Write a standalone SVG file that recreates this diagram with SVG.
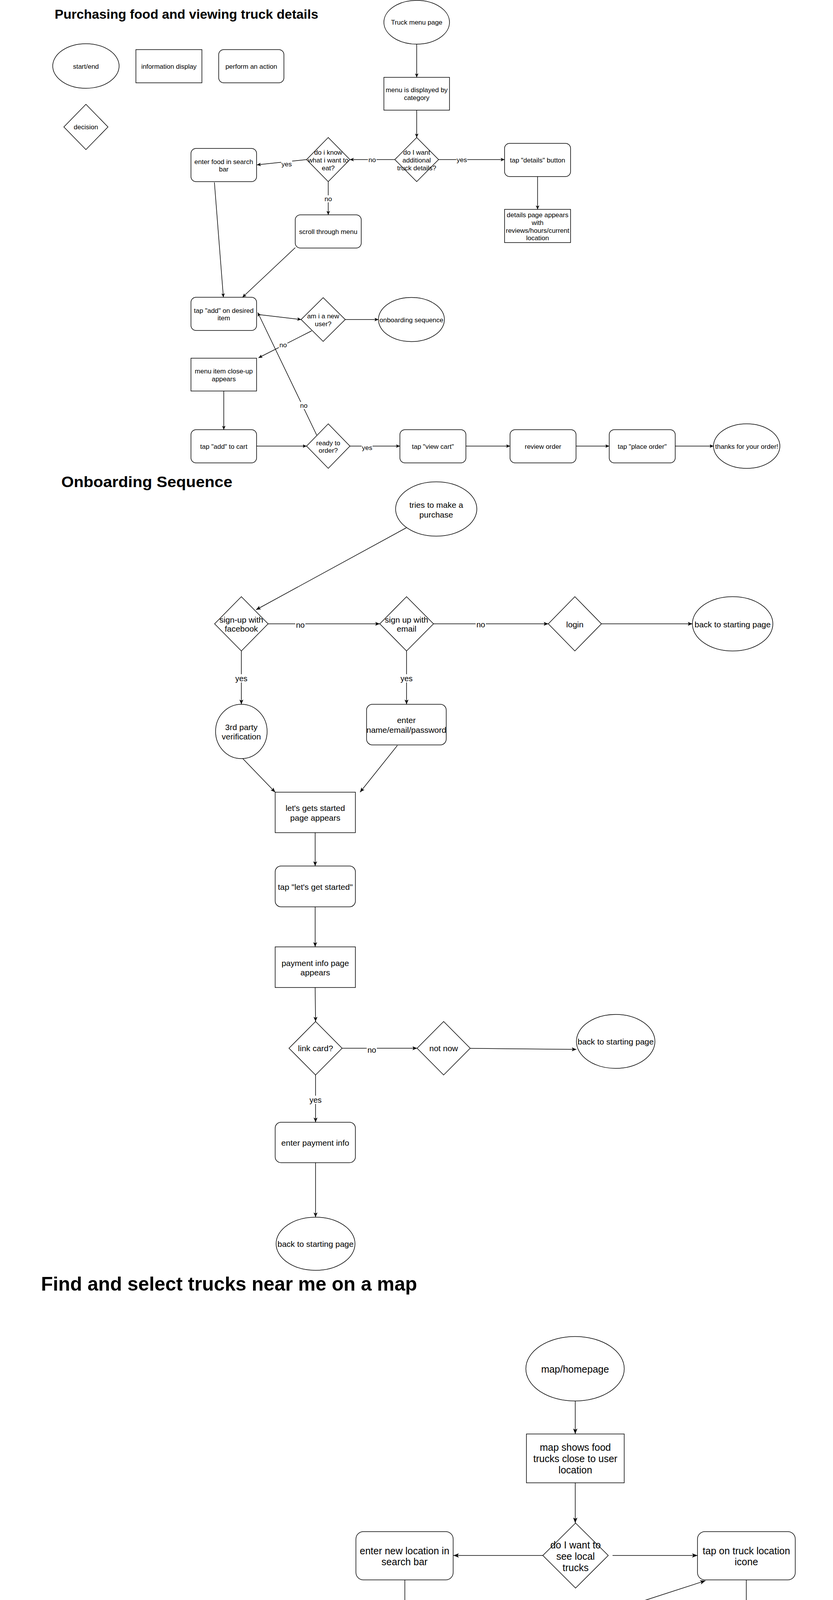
<svg xmlns="http://www.w3.org/2000/svg" width="2133" height="7585" viewBox="0 0 2133 7585">
<style>
text{font-family:"Liberation Sans",Arial,Helvetica,sans-serif;fill:#000;text-anchor:middle}
.title{font-weight:bold;text-anchor:start}
.n{fill:#fff;stroke:#000;stroke-width:1.5}
.c{fill:none;stroke:#000;stroke-width:1.5}
.f1{font-size:17px}
.f2{font-size:21px}
.f3{font-size:25px}
.l1{font-size:17px}
.l2{font-size:20px}
.bg{fill:#fff;stroke:none}
</style>
<defs>
<marker id="aS" viewBox="0 0 10 9" refX="10" refY="4.5" markerWidth="10" markerHeight="9" orient="auto" markerUnits="userSpaceOnUse"><path d="M0,0 L10,4.5 L0,9 L2.5,4.5 Z" fill="#000"/></marker>
<marker id="aM" viewBox="0 0 12 10" refX="12" refY="5" markerWidth="12" markerHeight="10" orient="auto" markerUnits="userSpaceOnUse"><path d="M0,0 L12,5 L0,10 L3,5 Z" fill="#000"/></marker>
<marker id="aL" viewBox="0 0 14 11" refX="14" refY="5.5" markerWidth="14" markerHeight="11" orient="auto" markerUnits="userSpaceOnUse"><path d="M0,0 L14,5.5 L0,11 L3.5,5.5 Z" fill="#000"/></marker>
</defs>
<rect width="2133" height="7585" fill="#fff"/>

<g id="titles">
<text class="title" x="140" y="48" font-size="34" textLength="675" lengthAdjust="spacingAndGlyphs">Purchasing food and viewing truck details</text>
<text class="title" x="157" y="1247" font-size="39" textLength="438" lengthAdjust="spacingAndGlyphs">Onboarding Sequence</text>
<text class="title" x="105" y="3304" font-size="50" textLength="963" lengthAdjust="spacingAndGlyphs">Find and select trucks near me on a map</text>
<text class="title" x="197" y="4876" font-size="50" textLength="643" lengthAdjust="spacingAndGlyphs">View previous transactions</text>
<text class="title" x="302" y="6517" font-size="49" textLength="378" lengthAdjust="spacingAndGlyphs">Writing a review</text>
</g>

<g id="connectors">
<!-- section 1 -->
<line class="c" x1="1067" y1="113" x2="1067" y2="198" marker-end="url(#aS)"/>
<line class="c" x1="1067" y1="282" x2="1067" y2="352" marker-end="url(#aS)"/>
<line class="c" x1="1011" y1="408.5" x2="896" y2="408.5" marker-end="url(#aS)"/>
<line class="c" x1="785" y1="408.5" x2="658" y2="422" marker-end="url(#aS)"/>
<line class="c" x1="840.5" y1="465" x2="840.5" y2="550" marker-end="url(#aS)"/>
<line class="c" x1="1123" y1="408.5" x2="1292" y2="408.5" marker-end="url(#aS)"/>
<line class="c" x1="1376.5" y1="452" x2="1376.5" y2="536" marker-end="url(#aS)"/>
<line class="c" x1="549" y1="467" x2="572" y2="761" marker-end="url(#aS)"/>
<line class="c" x1="756" y1="634" x2="621" y2="761" marker-end="url(#aS)"/>
<line class="c" x1="660" y1="805" x2="771" y2="818" marker-end="url(#aS)"/>
<line class="c" x1="884" y1="818" x2="969" y2="818" marker-end="url(#aS)"/>
<line class="c" x1="798" y1="847" x2="662" y2="916" marker-end="url(#aS)"/>
<line class="c" x1="573" y1="1001" x2="573" y2="1100" marker-end="url(#aS)"/>
<line class="c" x1="657" y1="1142" x2="785" y2="1142" marker-end="url(#aS)"/>
<line class="c" x1="811" y1="1114" x2="660" y2="800" marker-end="url(#aS)"/>
<line class="c" x1="896" y1="1142" x2="1024" y2="1142" marker-end="url(#aS)"/>
<line class="c" x1="1193" y1="1142" x2="1306" y2="1142" marker-end="url(#aS)"/>
<line class="c" x1="1475" y1="1142" x2="1560" y2="1142" marker-end="url(#aS)"/>
<line class="c" x1="1729" y1="1142" x2="1827" y2="1142" marker-end="url(#aS)"/>
<rect class="bg" x="942" y="399" width="22" height="18"/><text class="l1" x="953" y="414.5">no</text>
<rect class="bg" x="720" y="411" width="28" height="18"/><text class="l1" x="734" y="426">yes</text>
<rect class="bg" x="829.5" y="500" width="22" height="18"/><text class="l1" x="840.5" y="515">no</text>
<rect class="bg" x="1168.5" y="399.5" width="28" height="18"/><text class="l1" x="1182.5" y="414.5">yes</text>
<rect class="bg" x="714" y="874" width="22" height="18"/><text class="l1" x="725" y="889">no</text>
<rect class="bg" x="767" y="1029" width="22" height="18"/><text class="l1" x="778" y="1044">no</text>
<rect class="bg" x="926" y="1137" width="28" height="18"/><text class="l1" x="940" y="1152">yes</text>
<!-- section 2 -->
<line class="c" x1="1040.6" y1="1351" x2="655.7" y2="1561" marker-end="url(#aM)"/>
<line class="c" x1="687" y1="1597" x2="972.5" y2="1597" marker-end="url(#aM)"/>
<line class="c" x1="1110" y1="1597" x2="1404" y2="1597" marker-end="url(#aM)"/>
<line class="c" x1="1540" y1="1597" x2="1773" y2="1597" marker-end="url(#aM)"/>
<line class="c" x1="618" y1="1666.5" x2="618" y2="1803" marker-end="url(#aM)"/>
<line class="c" x1="1041" y1="1666.5" x2="1041" y2="1803" marker-end="url(#aM)"/>
<line class="c" x1="621.7" y1="1942" x2="704.6" y2="2028" marker-end="url(#aM)"/>
<line class="c" x1="1017.5" y1="1908.5" x2="922" y2="2028" marker-end="url(#aM)"/>
<line class="c" x1="807" y1="2131.6" x2="807" y2="2217" marker-end="url(#aM)"/>
<line class="c" x1="807" y1="2321.5" x2="807" y2="2424" marker-end="url(#aM)"/>
<line class="c" x1="807" y1="2528" x2="808" y2="2615" marker-end="url(#aM)"/>
<line class="c" x1="876" y1="2683.5" x2="1068" y2="2683.5" marker-end="url(#aM)"/>
<line class="c" x1="1204" y1="2683.8" x2="1476" y2="2686.4" marker-end="url(#aM)"/>
<line class="c" x1="808" y1="2752" x2="808" y2="2873" marker-end="url(#aM)"/>
<line class="c" x1="808" y1="2976.4" x2="808" y2="3116" marker-end="url(#aM)"/>
<rect class="bg" x="756" y="1589" width="26" height="21"/><text class="l2" x="769" y="1607">no</text>
<rect class="bg" x="1218" y="1588" width="26" height="21"/><text class="l2" x="1231" y="1605.5">no</text>
<rect class="bg" x="601" y="1726" width="34" height="21"/><text class="l2" x="618" y="1744">yes</text>
<rect class="bg" x="1024" y="1726" width="34" height="21"/><text class="l2" x="1041" y="1744">yes</text>
<rect class="bg" x="939" y="2678" width="26" height="21"/><text class="l2" x="952" y="2695">no</text>
<rect class="bg" x="791" y="2805" width="34" height="21"/><text class="l2" x="808" y="2823">yes</text>
<!-- section 3 -->
<line class="c" x1="1473" y1="3586.7" x2="1473" y2="3671" marker-end="url(#aL)"/>
<line class="c" x1="1473" y1="3796" x2="1473" y2="3899" marker-end="url(#aL)"/>
<line class="c" x1="1390" y1="3982" x2="1161" y2="3982" marker-end="url(#aL)"/>
<line class="c" x1="1568.5" y1="3982" x2="1786" y2="3982" marker-end="url(#aL)"/>
<line class="c" x1="1036.6" y1="4044.5" x2="1036.6" y2="4191.8" marker-end="url(#aL)"/>
<line class="c" x1="1163" y1="4255" x2="1806.5" y2="4046.6" marker-end="url(#aL)"/>
<line class="c" x1="1911" y1="4044.5" x2="1911" y2="4191.8" marker-end="url(#aL)"/>
<line class="c" x1="1911" y1="4317" x2="1911" y2="4442" marker-end="url(#aL)"/>
<line class="c" x1="1867.7" y1="4566.5" x2="1582" y2="4686" marker-end="url(#aL)"/>
<!-- section 4 -->
<line class="c" x1="1523.5" y1="5151.8" x2="1523.5" y2="5256" marker-end="url(#aL)"/>
<line class="c" x1="1609" y1="5339.5" x2="1692" y2="5339.5" marker-end="url(#aL)"/>
<line class="c" x1="1525.5" y1="5423" x2="1525.5" y2="5611.5" marker-end="url(#aL)"/>
<line class="c" x1="1523.5" y1="5736" x2="1526" y2="5839" marker-end="url(#aL)"/>
<line class="c" x1="1527.6" y1="5964" x2="1527.6" y2="6048" marker-end="url(#aL)"/>
<line class="c" x1="1526" y1="6173" x2="1526" y2="6297.8" marker-end="url(#aL)"/>
<!-- section 5 -->
<line class="c" x1="1714" y1="6718" x2="1714" y2="6799.6" marker-end="url(#aL)"/>
<line class="c" x1="1714" y1="6925.6" x2="1714" y2="7008" marker-end="url(#aL)"/>
<line class="c" x1="1711" y1="7133" x2="1711" y2="7279" marker-end="url(#aL)"/>
</g>

<!-- legend -->
<g id="legend-start"><ellipse class="n" cx="220" cy="169" rx="85" ry="57"/><text class="f1" x="220" y="176">start/end</text></g>
<g id="legend-info"><rect class="n" x="348" y="127" width="169" height="85"/><text class="f1" x="432.5" y="176">information display</text></g>
<g id="legend-action"><rect class="n" x="560" y="127" width="167" height="85" rx="13"/><text class="f1" x="643.5" y="176">perform an action</text></g>
<g id="legend-decision"><polygon class="n" points="220,267 276.5,325 220,383 163.5,325"/><text class="f1" x="220" y="331">decision</text></g>

<!-- section 1 -->
<g id="truck-menu-page"><ellipse class="n" cx="1067" cy="57" rx="84" ry="56"/><text class="f1" x="1067" y="63">Truck menu page</text></g>
<g id="menu-displayed"><rect class="n" x="983" y="198" width="168" height="84"/><text class="f1" x="1067" y="236.3">menu is displayed by</text><text class="f1" x="1067" y="256.4">category</text></g>
<g id="want-details"><polygon class="n" points="1067,352 1123,408.5 1067,465 1011,408.5"/><text class="f1" x="1067" y="396.3">do I want</text><text class="f1" x="1067" y="416">additional</text><text class="f1" x="1067" y="436">truck details?</text></g>
<g id="know-what"><polygon class="n" points="840.5,352 896,408.5 840.5,465 785,408.5"/><text class="f1" x="840.5" y="396.3">do i know</text><text class="f1" x="840.5" y="416">what i want to</text><text class="f1" x="840.5" y="436">eat?</text></g>
<g id="enter-food"><rect class="n" x="489" y="380" width="168" height="85" rx="13"/><text class="f1" x="573" y="419.6">enter food in search</text><text class="f1" x="573" y="439.2">bar</text></g>
<g id="scroll-menu"><rect class="n" x="756" y="550" width="169" height="85" rx="13"/><text class="f1" x="840.5" y="599">scroll through menu</text></g>
<g id="tap-details"><rect class="n" x="1292" y="367" width="169" height="85" rx="13"/><text class="f1" x="1376.5" y="416">tap "details" button</text></g>
<g id="details-page"><rect class="n" x="1292" y="536" width="169" height="85"/><text class="f1" x="1376.5" y="556.4">details page appears</text><text class="f1" x="1376.5" y="576">with</text><text class="f1" x="1376.5" y="595.6">reviews/hours/current</text><text class="f1" x="1376.5" y="615.2">location</text></g>
<g id="tap-add-item"><rect class="n" x="489" y="761" width="168" height="85" rx="13"/><text class="f1" x="573" y="801.2">tap "add" on desired</text><text class="f1" x="573" y="820.4">item</text></g>
<g id="new-user"><polygon class="n" points="827.5,762 884,818 827.5,874 771,818"/><text class="f1" x="827.5" y="815">am i a new</text><text class="f1" x="827.5" y="834.7">user?</text></g>
<g id="onboarding-seq-1"><ellipse class="n" cx="1053.5" cy="818" rx="84.5" ry="56.5"/><text class="f1" x="1053.5" y="824.5">onboarding sequence</text></g>
<g id="close-up"><rect class="n" x="489" y="917" width="168" height="84"/><text class="f1" x="573" y="956">menu item close-up</text><text class="f1" x="573" y="975.5">appears</text></g>
<g id="add-cart"><rect class="n" x="489" y="1100" width="168" height="85" rx="13"/><text class="f1" x="573" y="1149">tap "add" to cart</text></g>
<g id="ready-order"><polygon class="n" points="840.5,1085 896,1142 840.5,1199 785,1142"/><text class="f1" x="840.5" y="1139.5">ready to</text><text class="f1" x="840.5" y="1158.5">order?</text></g>
<g id="view-cart"><rect class="n" x="1024" y="1100" width="169" height="85" rx="13"/><text class="f1" x="1108.5" y="1149">tap "view cart"</text></g>
<g id="review-order"><rect class="n" x="1306" y="1100" width="169" height="85" rx="13"/><text class="f1" x="1390.5" y="1149">review order</text></g>
<g id="place-order"><rect class="n" x="1560" y="1100" width="169" height="85" rx="13"/><text class="f1" x="1644.5" y="1149">tap "place order"</text></g>
<g id="thanks"><ellipse class="n" cx="1912" cy="1142" rx="85" ry="57"/><text class="f1" x="1912" y="1149">thanks for your order!</text></g>

<!-- section 2 -->
<g id="tries-purchase"><ellipse class="n" cx="1117" cy="1303" rx="104" ry="69.5"/><text class="f2" x="1117" y="1300.2">tries to make a</text><text class="f2" x="1117" y="1324.8">purchase</text></g>
<g id="signup-facebook"><polygon class="n" points="618,1527.5 686.5,1597 618,1666.5 549.5,1597"/><text class="f2" x="618" y="1593.5">sign-up with</text><text class="f2" x="618" y="1617.3">facebook</text></g>
<g id="signup-email"><polygon class="n" points="1041,1527.5 1110,1597 1041,1666.5 972.5,1597"/><text class="f2" x="1041" y="1593.5">sign up with</text><text class="f2" x="1041" y="1617.3">email</text></g>
<g id="login"><polygon class="n" points="1472,1527.5 1540,1597 1472,1666.5 1404,1597"/><text class="f2" x="1472" y="1605.5">login</text></g>
<g id="back-start-1"><ellipse class="n" cx="1876" cy="1597" rx="103" ry="69.5"/><text class="f2" x="1876" y="1605.5">back to starting page</text></g>
<g id="third-party"><ellipse class="n" cx="618" cy="1872.5" rx="66" ry="69.5"/><text class="f2" x="618" y="1868.5">3rd party</text><text class="f2" x="618" y="1893">verification</text></g>
<g id="enter-name"><rect class="n" x="938.6" y="1803" width="204" height="104" rx="15"/><text class="f2" x="1040.6" y="1851">enter</text><text class="f2" x="1040.6" y="1875.5">name/email/password</text></g>
<g id="lets-started-page"><rect class="n" x="704.6" y="2028" width="205.4" height="103.6"/><text class="f2" x="807.3" y="2075.5">let's gets started</text><text class="f2" x="807.3" y="2100.5">page appears</text></g>
<g id="tap-lets-started"><rect class="n" x="704.6" y="2217" width="205.4" height="104.5" rx="15"/><text class="f2" x="807.3" y="2277.5">tap "let's get started"</text></g>
<g id="payment-page"><rect class="n" x="704.6" y="2424" width="205.4" height="104"/><text class="f2" x="807.3" y="2473">payment info page</text><text class="f2" x="807.3" y="2497">appears</text></g>
<g id="link-card"><polygon class="n" points="808,2615 876,2683.5 808,2752 740,2683.5"/><text class="f2" x="808" y="2690.5">link card?</text></g>
<g id="not-now"><polygon class="n" points="1136,2615 1204,2683.5 1136,2752 1068,2683.5"/><text class="f2" x="1136" y="2690.5">not now</text></g>
<g id="back-start-2"><ellipse class="n" cx="1576.5" cy="2666" rx="100.5" ry="69"/><text class="f2" x="1576.5" y="2674">back to starting page</text></g>
<g id="enter-payment"><rect class="n" x="704.6" y="2873" width="205.4" height="103.4" rx="15"/><text class="f2" x="807.3" y="2933">enter payment info</text></g>
<g id="back-start-3"><ellipse class="n" cx="808" cy="3184" rx="101" ry="68"/><text class="f2" x="808" y="3191.5">back to starting page</text></g>

<!-- section 3 -->
<g id="map-homepage"><ellipse class="n" cx="1472.5" cy="3504" rx="126" ry="82.6"/><text class="f3" x="1472.5" y="3514">map/homepage</text></g>
<g id="map-shows"><rect class="n" x="1348" y="3671" width="250.4" height="125"/><text class="f3" x="1473.2" y="3714">map shows food</text><text class="f3" x="1473.2" y="3742.5">trucks close to user</text><text class="f3" x="1473.2" y="3772">location</text></g>
<g id="want-local"><polygon class="n" points="1473.8,3899 1557.5,3982 1473.8,4065.5 1390,3982"/><text class="f3" x="1473.8" y="3963.5">do I want to</text><text class="f3" x="1473.8" y="3993">see local</text><text class="f3" x="1473.8" y="4021.5">trucks</text></g>
<g id="enter-location"><rect class="n" x="911.4" y="3921" width="249" height="123.5" rx="19"/><text class="f3" x="1035.9" y="3978.5">enter new location in</text><text class="f3" x="1035.9" y="4006.5">search bar</text></g>
<g id="tap-truck-icon"><rect class="n" x="1786" y="3921" width="250.4" height="123.5" rx="19"/><text class="f3" x="1911.2" y="3978.5">tap on truck location</text><text class="f3" x="1911.2" y="4006.5">icone</text></g>
<g id="new-truck-map"><rect class="n" x="911.4" y="4191.8" width="249" height="125.2"/><text class="f3" x="1035.9" y="4235">new truck map</text><text class="f3" x="1035.9" y="4263.5">appears based on</text><text class="f3" x="1035.9" y="4293">new location</text></g>
<g id="card-appears"><rect class="n" x="1786" y="4191.8" width="250.4" height="125.2"/><text class="f3" x="1911.2" y="4248.5">card appears with</text><text class="f3" x="1911.2" y="4277">basic truck info</text></g>
<g id="tap-card"><rect class="n" x="1786" y="4442" width="250.4" height="124.5" rx="19"/><text class="f3" x="1911.2" y="4514">tap on card</text></g>
<g id="truck-menu-page-2"><ellipse class="n" cx="1472.5" cy="4734" rx="126" ry="84"/><text class="f3" x="1472.5" y="4743.5">truck menu page</text></g>

<!-- section 4 -->
<g id="my-paycrave"><ellipse class="n" cx="1525.5" cy="5068" rx="124.5" ry="83.5"/><text class="f3" x="1525.5" y="5079">my paycrave</text></g>
<g id="have-account"><polygon class="n" points="1525.5,5256 1609,5339.5 1525.5,5423 1442,5339.5"/><text class="f3" x="1525.5" y="5334">do I have an</text><text class="f3" x="1525.5" y="5363">account?</text></g>
<g id="onboarding-seq-2"><ellipse class="n" cx="1817" cy="5339.5" rx="125" ry="83.5"/><text class="f3" x="1817" y="5349">onboarding sequence</text></g>
<g id="tap-previous"><rect class="n" x="1401" y="5611.5" width="249" height="124.5" rx="19"/><text class="f3" x="1525.5" y="5667.5">tap "previous</text><text class="f3" x="1525.5" y="5697">transactions"</text></g>
<g id="transactions-appear"><rect class="n" x="1401" y="5839" width="249" height="125"/><text class="f3" x="1525.5" y="5896.5">transactions appear</text><text class="f3" x="1525.5" y="5927">by date</text></g>
<g id="tap-transaction"><rect class="n" x="1401" y="6048" width="249" height="125" rx="19"/><text class="f3" x="1525.5" y="6120">tap transaction</text></g>
<g id="transaction-detail"><ellipse class="n" cx="1525.5" cy="6381" rx="124.5" ry="83.5"/><text class="f3" x="1525.5" y="6377">transaction detail</text><text class="f3" x="1525.5" y="6406">page</text></g>

<!-- section 5 -->
<g id="open-app"><ellipse class="n" cx="1714" cy="6634" rx="125" ry="84"/><text class="f3" x="1714" y="6629">open the app after</text><text class="f3" x="1714" y="6658">making a purchase</text></g>
<g id="popup-window"><rect class="n" x="1589" y="6799.6" width="250" height="126"/><text class="f3" x="1714" y="6844">pop-up window</text><text class="f3" x="1714" y="6873">appears with rating</text><text class="f3" x="1714" y="6902">prompt</text></g>
<g id="give-rating"><rect class="n" x="1589" y="7008" width="250" height="125" rx="19"/><text class="f3" x="1714" y="7067">give rating/write</text><text class="f3" x="1714" y="7095">review</text></g>
<g id="home-screen"><ellipse class="n" cx="1714" cy="7363" rx="125" ry="84"/><text class="f3" x="1714" y="7372">home screen</text></g>
</svg>
